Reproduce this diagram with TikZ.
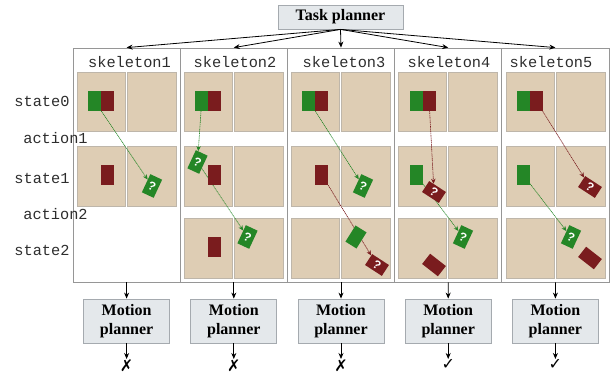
\documentclass[tikz,border=0pt]{standalone}
\usepackage{fontspec}
\setmainfont{Liberation Serif}
\setsansfont{Liberation Sans}
\setmonofont{Liberation Mono}
\newfontfamily\symfont{DejaVu Sans}
\usetikzlibrary{arrows.meta}
\definecolor{cellfill}{RGB}{222,205,180}
\definecolor{celledge}{RGB}{190,182,170}
\definecolor{objgreen}{RGB}{36,134,38}
\definecolor{objred}{RGB}{122,28,30}
\definecolor{framegray}{RGB}{150,150,150}
\definecolor{boxfill}{RGB}{228,232,235}
\definecolor{boxedge}{RGB}{165,170,175}
\definecolor{labeltext}{RGB}{45,45,45}
\pgfdeclarelayer{cells}
\pgfdeclarelayer{lines}
\pgfsetlayers{cells,lines,main}
\begin{document}
\begin{tikzpicture}[x=1pt,y=-1pt,
  cell/.style={draw=celledge, fill=cellfill, line width=0.6pt},
  colbox/.style={draw=framegray, line width=0.8pt, minimum width=107.2pt, minimum height=234pt, inner sep=0},
  planner/.style={draw=boxedge, fill=boxfill, line width=0.8pt, inner sep=0, align=center, font=\fontsize{16}{19}\selectfont\bfseries},
  lbl/.style={font=\fontsize{15.3}{18}\selectfont\ttfamily, text=labeltext, inner sep=0},
  gblk/.style={fill=objgreen, minimum width=13pt, minimum height=20pt, inner sep=0},
  rblk/.style={fill=objred, minimum width=13pt, minimum height=20pt, inner sep=0},
  gq/.style={fill=objgreen, minimum width=13pt, minimum height=20pt, inner sep=0, rotate=-25, text=white, font=\sffamily\bfseries\fontsize{12}{12}\selectfont},
  rq/.style={fill=objred, minimum width=20pt, minimum height=13pt, inner sep=0, rotate=-33, text=white, font=\sffamily\bfseries\fontsize{12}{12}\selectfont},
  gplain/.style={fill=objgreen, minimum width=13pt, minimum height=19pt, inner sep=0, rotate=-32},
  rplain/.style={fill=objred, minimum width=20pt, minimum height=13pt, inner sep=0, rotate=-38},
  gmove/.style={draw=objgreen, line width=0.6pt, dash pattern=on 1.2pt off 0.6pt, -{Stealth[length=5pt,width=4.5pt]}},
  rmove/.style={draw=objred, line width=0.6pt, dash pattern=on 1.2pt off 0.6pt, -{Stealth[length=5pt,width=4.5pt]}},
  flow/.style={draw=black, line width=0.8pt, -{Stealth[length=6pt,width=5pt]}},
  verdict/.style={font=\symfont\fontsize{16}{16}\selectfont, inner sep=0.5pt, anchor=north}
]
\useasboundingbox (0,0) rectangle (610,382);

% column frames and cells
\foreach \L [count=\i] in {73,180.2,287.4,394.6,501.8} {
  \node[colbox] (C\i) at (\L+53.6,165) {};
  \begin{pgfonlayer}{cells}
    \draw[cell] (\L+4,72) rectangle (\L+52,131);
    \draw[cell] (\L+54,72) rectangle (\L+103,131);
    \draw[cell] (\L+4,146) rectangle (\L+52,206);
    \draw[cell] (\L+54,146) rectangle (\L+103,206);
    \ifnum\i>1
      \draw[cell] (\L+4,218) rectangle (\L+52,278);
      \draw[cell] (\L+54,218) rectangle (\L+103,278);
    \fi
  \end{pgfonlayer}
}

% task planner
\node[planner, minimum width=125pt, minimum height=24pt] (tp) at (340.5,17) {Task planner};

% row labels
\node[lbl] (s0) at (42,101) {state0};
\node[lbl] (a1) at (55.5,138) {action1};
\node[lbl] (s1) at (42,178) {state1};
\node[lbl] (a2) at (55.5,214) {action2};
\node[lbl] (s2) at (42,250) {state2};

% skeleton labels
\node[lbl] (k1) at (129.5,62) {skeleton1};
\node[lbl] (k2) at (235,62) {skeleton2};
\node[lbl] (k3) at (344,62) {skeleton3};
\node[lbl] (k4) at (449,62) {skeleton4};
\node[lbl] (k5) at (551,62) {skeleton5};

% skeleton 1
\node[gblk] (c1g0) at (94.5,101) {};
\node[rblk] (c1r0) at (107.5,101) {};
\node[rblk] (c1r1) at (107.5,175) {};
\node[gq] (c1q1) at (152,186) {?};

% skeleton 2
\node[gblk] (c2g0) at (201.7,101) {};
\node[rblk] (c2r0) at (214.7,101) {};
\node[gq] (c2q1) at (197.5,162) {?};
\node[rblk] (c2r1) at (214.7,175) {};
\node[gq] (c2q2) at (247.5,237) {?};
\node[rblk] (c2r2) at (214.7,247) {};

% skeleton 3
\node[gblk] (c3g0) at (308.9,101) {};
\node[rblk] (c3r0) at (321.9,101) {};
\node[rblk] (c3r1) at (321.9,175) {};
\node[gq] (c3q1) at (363,186) {?};
\node[gplain] (c3p2) at (356,237) {};
\node[rq] (c3q2) at (377,265) {?};

% skeleton 4
\node[gblk] (c4g0) at (416.1,101) {};
\node[rblk] (c4r0) at (429.1,101) {};
\node[gblk] (c4g1) at (416.1,175) {};
\node[rq] (c4q1) at (434,192) {?};
\node[rplain] (c4p2) at (434,265) {};
\node[gq] (c4q2) at (463,237) {?};

% skeleton 5
\node[gblk] (c5g0) at (523.3,101) {};
\node[rblk] (c5r0) at (536.3,101) {};
\node[gblk] (c5g1) at (523.3,175) {};
\node[rq] (c5q1) at (590,187) {?};
\node[gq] (c5q2) at (571,237) {?};
\node[rplain] (c5p2) at (590,258) {};

% motion arrows (under objects)
\begin{pgfonlayer}{lines}
  \draw[gmove] (c1g0) -- (c1q1);
  \draw[gmove] (c2g0) -- (c2q1);
  \draw[gmove] (c2q1) -- (c2q2);
  \draw[gmove] (c3g0) -- (c3q1);
  \draw[rmove] (c3r1) -- (c3q2);
  \draw[rmove] (c4r0) -- (c4q1);
  \draw[gmove] (c4g1) -- (c4q2);
  \draw[rmove] (c5r0) -- (c5q1);
  \draw[gmove] (c5g1) -- (c5q2);
\end{pgfonlayer}

% motion planners and verdicts
\foreach \cx/\v [count=\i] in {126.6/✗,233.8/✗,341.0/✗,448.2/✓,555.4/✓} {
  \node[planner, minimum width=86pt, minimum height=44pt] (mp\i) at (\cx,321) {Motion\\planner};
  \node[verdict] (v\i) at (\cx,359) {\v};
  \draw[flow] (tp.south) -- (C\i.north);
  \draw[flow] (C\i.south) -- (mp\i.north);
  \draw[flow] (mp\i.south) -- (v\i.north);
}
\end{tikzpicture}
\end{document}
